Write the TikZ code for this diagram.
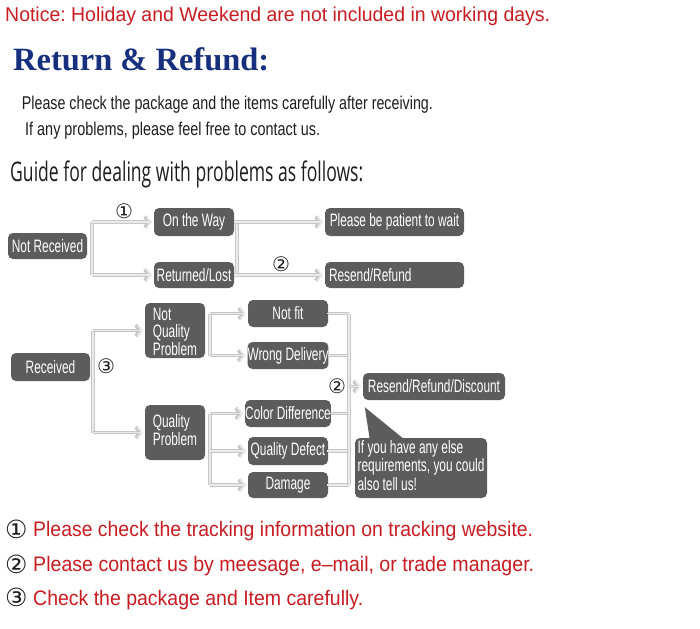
\documentclass[tikz,border=0pt]{standalone}
\usepackage{fontspec}
\setmainfont{Liberation Sans}
\newfontfamily\serifb{Liberation Serif}
\newfontfamily\guidef{Open Sans}
\newfontfamily\symf{DejaVu Sans}
\usetikzlibrary{arrows.meta,calc}
\definecolor{boxc}{RGB}{92,92,92}
\definecolor{linec}{RGB}{198,198,198}
\definecolor{linei}{RGB}{234,234,234}
\definecolor{redt}{RGB}{200,28,34}
\definecolor{bluet}{RGB}{22,48,125}
\definecolor{textc}{RGB}{30,30,30}
\newcommand\cnd[1]{\scalebox{0.66}[1]{#1}}
\newcommand\fitw[2]{\resizebox{#1}{\height}{#2}}
\frenchspacing
\begin{document}
\begin{tikzpicture}[x=1pt,y=-1pt,
  box/.style={fill=boxc, rounded corners=5pt, text=white, inner sep=0pt,
    font=\fontsize{18}{17.5}\selectfont},
  sz/.style 2 args={minimum width=#1pt, minimum height=#2pt},
  conn/.style={draw=linei, line width=1.5pt, -{Straight Barb[length=4.5pt,width=11pt]}, shorten >=2pt,
    preaction={draw=linec, line width=3.8pt, -{Straight Barb[length=4.5pt,width=11pt]}}},
  trunk/.style={draw=linei, line width=1.5pt, line cap=rect,
    preaction={draw=linec, line width=3.8pt}},
  num/.style={font=\symf\fontsize{20}{20}\selectfont, inner sep=0pt, text=textc},
  cnum/.style={anchor=base west, inner sep=0pt, font=\symf\fontsize{25}{25}\selectfont, text=textc},
  txt/.style={anchor=base west, inner sep=0pt},
]
\useasboundingbox (0,0) rectangle (700,628);
\fill[white] (0,0) rectangle (700,628);

% header texts
\node[txt, text=redt] (notice) at (5,21.7) {\fitw{545pt}{\fontsize{20}{20}\selectfont Notice: Holiday and Weekend are not included in working days.}};
\node[txt, text=bluet] (title) at (13,71) {\fitw{256pt}{\serifb\bfseries\fontsize{32.5}{33}\selectfont Return \& Refund:}};
\node[txt, text=textc] (p1) at (21.7,110) {\fitw{411pt}{\fontsize{18.5}{19}\selectfont Please check the package and the items carefully after receiving.}};
\node[txt, text=textc] (p2) at (25,136) {\fitw{295pt}{\fontsize{18.5}{19}\selectfont If any problems, please feel free to contact us.}};
\node[txt, text=textc] (guide) at (10,182) {\fitw{353pt}{\guidef\fontsize{27}{28}\selectfont Guide for dealing with problems as follows:}};

% group 1
\node[box, sz={79}{26}] (NR) at (47.5,246) {\cnd{Not Received}};
\node[box, sz={80}{28}] (OTW) at (194,222) {\cnd{On the Way}};
\node[box, sz={80}{26}] (RL) at (194,275) {\cnd{Returned/Lost}};
\node[box, sz={139}{28}] (PBP) at (394.5,222) {\cnd{Please be patient to wait}};
\node[box, sz={139}{26}, text width=131pt, align=left] (RR) at (394.5,275) {\cnd{Resend/Refund}};

\coordinate (t1) at (92,0);
\draw[trunk] (t1 |- OTW) -- (t1 |- RL);
\draw[conn] (t1 |- OTW) -- (OTW.west);
\draw[conn] (t1 |- RL) -- (RL.west);
\coordinate (t2) at (237,0);
\draw[trunk] (t2 |- OTW) -- (t2 |- RL);
\draw[conn] (OTW.east) -- (PBP.west);
\draw[conn] (RL.east) -- (RR.west);
\node[num] (n1) at (124,211) {①};
\node[num] (n2) at (281,264) {②};

% group 2
\node[box, sz={79}{28}] (REC) at (50.5,367) {\cnd{Received}};
\node[box, sz={60}{55}] (NQP) at (175,330.5) {\fontsize{18}{16}\selectfont\raisebox{-8pt}[0pt][0pt]{\cnd{\begin{tabular}{@{}l@{}}Not\\Quality\\Problem\end{tabular}}}};
\node[box, sz={60}{55}] (QP) at (175,432.5) {\fontsize{18}{17}\selectfont\cnd{\begin{tabular}{@{}l@{}}Quality\\Problem\end{tabular}}};
\node[box, sz={80}{27}] (NF) at (288,313.5) {\cnd{Not fit}};
\node[box, sz={80}{27}] (WD) at (288,355.5) {\cnd{Wrong Delivery}};
\node[box, sz={80}{27}] (CD) at (288,413.5) {\cnd{Color Difference}};
\node[box, sz={80}{28}] (QD) at (288,451) {\cnd{Quality Defect}};
\node[box, sz={80}{26}] (DM) at (288,485) {\cnd{Damage}};
\node[box, sz={142}{27}] (RRD) at (434,386.5) {\cnd{Resend/Refund/Discount}};
\node[box, sz={132}{60}] (BUB) at (421,468) {\cnd{\begin{tabular}{@{}l@{}}If you have any else\\requirements, you could\\also tell us!\end{tabular}}};
\fill[boxc] ($(BUB.north west)+(15,2)$) -- ($(RRD.south west)+(2,7)$) -- ($(BUB.north west)+(50,2)$) -- cycle;

\coordinate (t3) at (93,0);
\draw[trunk] (t3 |- NQP) -- (t3 |- QP);
\draw[conn] (t3 |- NQP) -- (NQP.west);
\draw[conn] (t3 |- QP) -- (QP.west);
\coordinate (t4) at (210,0);
\draw[trunk] (t4 |- NF) -- (t4 |- WD);
\draw[conn] (t4 |- NF) -- (NF.west);
\draw[conn] (t4 |- WD) -- (WD.west);
\draw[trunk] (t4 |- CD) -- (t4 |- DM);
\draw[conn] (t4 |- CD) -- (CD.west);
\draw[conn] (t4 |- QD) -- (QD.west);
\draw[conn] (t4 |- DM) -- (DM.west);
\coordinate (t5) at (349,0);
\draw[trunk] (NF.east) -- (t5 |- NF);
\draw[trunk] (WD.east) -- (t5 |- WD);
\draw[trunk] (CD.east) -- (t5 |- CD);
\draw[trunk] (QD.east) -- (t5 |- QD);
\draw[trunk] (DM.east) -- (t5 |- DM);
\draw[trunk] (t5 |- NF) -- (t5 |- DM);
\draw[conn] (t5 |- RRD) -- (RRD.west);
\node[num] (n3) at (106,366) {③};
\node[num] (n2b) at (337,386) {②};

% footer
\node[cnum] (c1) at (5,538) {①};
\node[txt, text=redt] (b1) at (33,536.7) {\fitw{500pt}{\fontsize{21}{21}\selectfont Please check the tracking information on tracking website.}};
\node[cnum] (c2) at (5,573) {②};
\node[txt, text=redt] (b2) at (33,571.7) {\fitw{501pt}{\fontsize{21}{21}\selectfont Please contact us by meesage, e–mail, or trade manager.}};
\node[cnum] (c3) at (5,606.3) {③};
\node[txt, text=redt] (b3) at (33,605) {\fitw{330pt}{\fontsize{21}{21}\selectfont Check the package and Item carefully.}};
\end{tikzpicture}
\end{document}
